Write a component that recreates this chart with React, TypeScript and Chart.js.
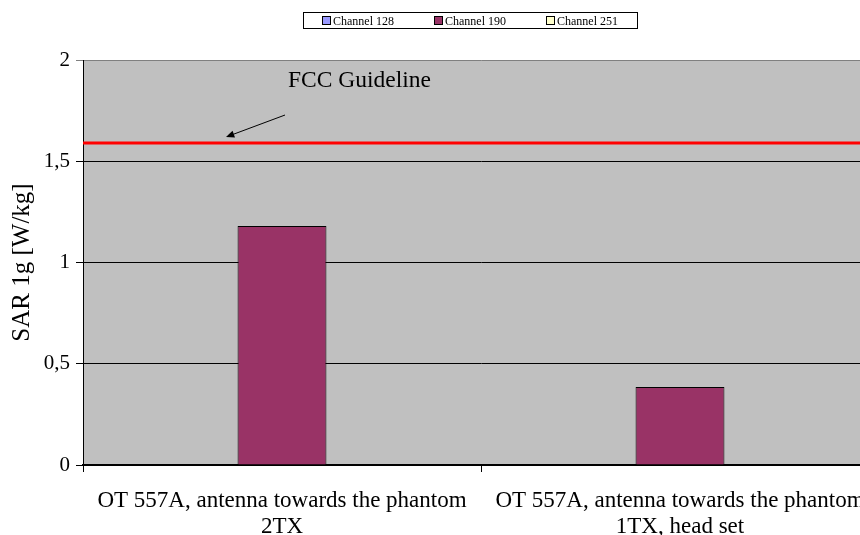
import React, { useEffect, useRef } from 'react';
import { Chart, registerables } from 'chart.js';

Chart.register(...registerables);

// ---- data ----
const categories: string[][] = [
  ['OT 557A, antenna towards the phantom', '2TX'],
  ['OT 557A, antenna towards the phantom', '1TX, head set'],
];
const seriesNames = ['Channel 128', 'Channel 190', 'Channel 251'];
const channel128: (number | null)[] = [null, null];
const channel190: (number | null)[] = [1.18, 0.385];
const channel251: (number | null)[] = [null, null];
const seriesColors = ['#9999FF', '#993366', '#FFFFCC'];
const yMin = 0;
const yMax = 2;
const yStep = 0.5;
const fccGuideline = 1.59;
const guidelineLabel = 'FCC Guideline';
const yAxisTitle = 'SAR 1g [W/kg]';

const FONT = '"Liberation Serif", "Times New Roman", serif';

const plotBackground = {
  id: 'plotBackground',
  beforeDraw(chart: any) {
    const { ctx, chartArea } = chart;
    ctx.save();
    ctx.fillStyle = '#C0C0C0';
    ctx.fillRect(chartArea.left, chartArea.top, chartArea.right - chartArea.left, chartArea.bottom - chartArea.top);
    ctx.restore();
  },
};

const guideline = {
  id: 'guideline',
  afterDatasetsDraw(chart: any) {
    const { ctx, chartArea, scales } = chart;
    const y = scales.y.getPixelForValue(fccGuideline);
    ctx.save();
    ctx.strokeStyle = '#FF0000';
    ctx.lineWidth = 3;
    ctx.beginPath();
    ctx.moveTo(chartArea.left, y);
    ctx.lineTo(chartArea.right, y);
    ctx.stroke();

    // arrow
    const tipX = chartArea.left + 143;
    const tipY = y - 6;
    const tailX = tipX + 59;
    const tailY = tipY - 22;
    const ang = Math.atan2(tipY - tailY, tipX - tailX);
    ctx.strokeStyle = '#000';
    ctx.lineWidth = 1;
    ctx.beginPath();
    ctx.moveTo(tailX, tailY);
    ctx.lineTo(tipX - Math.cos(ang) * 6, tipY - Math.sin(ang) * 6);
    ctx.stroke();
    ctx.fillStyle = '#000';
    ctx.beginPath();
    ctx.moveTo(tipX, tipY);
    ctx.lineTo(tipX - Math.cos(ang - 0.4) * 9, tipY - Math.sin(ang - 0.4) * 9);
    ctx.lineTo(tipX - Math.cos(ang + 0.4) * 9, tipY - Math.sin(ang + 0.4) * 9);
    ctx.closePath();
    ctx.fill();

    ctx.font = `23.5px ${FONT}`;
    ctx.textBaseline = 'alphabetic';
    ctx.textAlign = 'left';
    ctx.fillText(guidelineLabel, chartArea.left + 205, y - 56);
    ctx.restore();
  },
};

const boxedLegend = {
  id: 'boxedLegend',
  afterDraw(chart: any) {
    const { ctx } = chart;
    ctx.save();
    ctx.font = `12px ${FONT}`;
    const box = 8;
    const gapText = 3;
    const itemGap = 40;
    const items = chart.data.datasets.map((ds: any) => ({
      label: ds.label as string,
      color: ds.backgroundColor as string,
      w: box + gapText + ctx.measureText(ds.label).width,
    }));
    const total = items.reduce((s: number, it: any) => s + it.w, 0) + itemGap * (items.length - 1);
    const cx = 470;
    let x = cx - total / 2;
    const padX = 19;
    ctx.strokeStyle = '#000';
    ctx.lineWidth = 1;
    ctx.fillStyle = '#fff';
    ctx.fillRect(Math.round(x - padX) + 0.5, 12.5, Math.round(total + padX * 2), 16);
    ctx.strokeRect(Math.round(x - padX) + 0.5, 12.5, Math.round(total + padX * 2), 16);
    ctx.textBaseline = 'alphabetic';
    ctx.textAlign = 'left';
    items.forEach((it: any) => {
      const bx = Math.round(x) + 0.5;
      ctx.fillStyle = it.color;
      ctx.fillRect(bx, 16.5, box, box);
      ctx.strokeStyle = '#000';
      ctx.strokeRect(bx, 16.5, box, box);
      ctx.fillStyle = '#000';
      ctx.fillText(it.label, x + box + gapText, 25);
      x += it.w + itemGap;
    });
    ctx.restore();
  },
};

export default function App() {
  const ref = useRef<HTMLCanvasElement | null>(null);

  useEffect(() => {
    if (!ref.current) return;
    Chart.defaults.font.family = FONT;
    Chart.defaults.color = '#000';
    const chart = new Chart(ref.current, {
      type: 'bar',
      data: {
        labels: categories,
        datasets: [
          { label: seriesNames[0], data: channel128, backgroundColor: seriesColors[0], borderColor: '#000', borderWidth: 1 },
          { label: seriesNames[1], data: channel190, backgroundColor: seriesColors[1], borderColor: '#000', borderWidth: 1 },
          { label: seriesNames[2], data: channel251, backgroundColor: seriesColors[2], borderColor: '#000', borderWidth: 1 },
        ],
      },
      options: {
        responsive: false,
        animation: false,
        events: [],
        layout: { padding: { top: 60, right: 21, left: 0, bottom: 0 } },
        datasets: { bar: { categoryPercentage: 0.67, barPercentage: 1, grouped: true } },
        plugins: {
          legend: { display: false },
          tooltip: { enabled: false },
          title: { display: false },
        },
        scales: {
          x: {
            offset: true,
            grid: { drawOnChartArea: false, drawTicks: true, tickLength: 7, offset: true, color: '#000', lineWidth: 1 },
            border: { color: '#000', width: 2 },
            ticks: { font: { size: 23, lineHeight: 1.13 }, color: '#000', padding: 16, maxRotation: 0, autoSkip: false },
            afterFit: (scale: any) => { scale.height = 70; },
          },
          y: {
            min: yMin,
            max: yMax,
            grid: {
              color: (c: any) => (c.tick && c.tick.value === yMax ? '#808080' : '#000'),
              lineWidth: 1,
              tickLength: 7,
              drawTicks: true,
            },
            border: { color: '#000', width: 1 },
            ticks: {
              stepSize: yStep,
              font: { size: 21 },
              color: '#000',
              padding: 6,
              callback: (v: any) => String(v).replace('.', ','),
            },
            title: { display: true, text: yAxisTitle, font: { size: 25, lineHeight: 1.2 }, color: '#000', padding: { top: 7, bottom: 0 } },
            afterFit: (scale: any) => { scale.width = 83; },
          },
        },
      },
      plugins: [plotBackground, guideline, boxedLegend],
    });
    return () => chart.destroy();
  }, []);

  return (
    <div style={{ position: 'fixed', left: 0, top: 0, width: 860, height: 535, overflow: 'hidden', background: '#fff' }}>
      <canvas ref={ref} width={900} height={535} style={{ display: 'block', width: 900, height: 535 }} />
    </div>
  );
}
